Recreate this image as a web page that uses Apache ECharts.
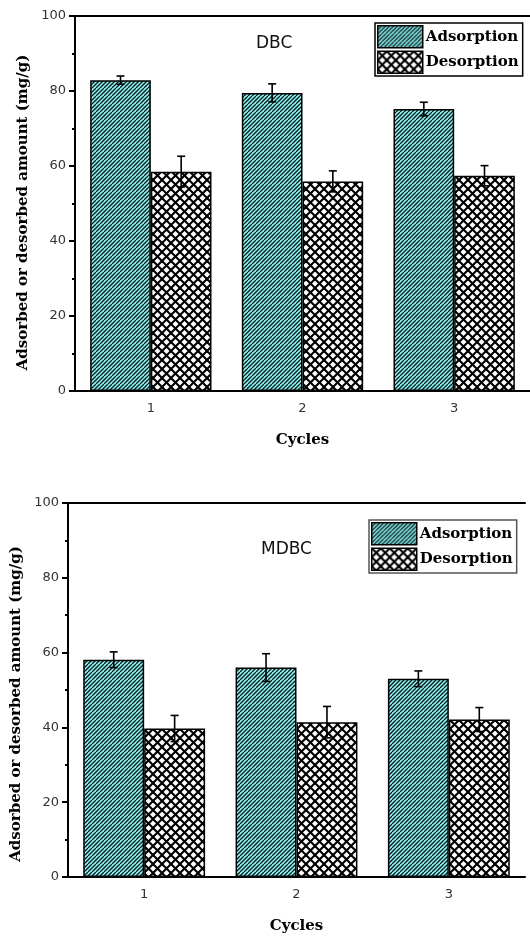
<!DOCTYPE html>
<html>
<head>
<meta charset="utf-8">
<script src="https://cdn.jsdelivr.net/npm/echarts@6/dist/echarts.min.js"></script>
<style>
  html, body { margin: 0; padding: 0; background: #fff; }
  #chart { width: 530px; height: 939px; }
</style>
</head>
<body>
<div id="chart"></div>
<script>
// Cycle categories and y-axis ticks
const cycles = ['1', '2', '3'];
const yTicks = [0, 20, 40, 60, 80, 100];

// DBC: adsorbed / desorbed amount (mg/g) with error margins
const dbcAds = [82.9, 79.5, 75.2];
const dbcAdsErr = [1.1, 2.4, 1.8];
const dbcDes = [58.5, 55.9, 57.4];
const dbcDesErr = [4.1, 2.8, 2.7];

// MDBC: adsorbed / desorbed amount (mg/g) with error margins
const mdbcAds = [58.1, 56.0, 53.0];
const mdbcAdsErr = [2.1, 3.7, 2.1];
const mdbcDes = [39.7, 41.4, 42.1];
const mdbcDesErr = [3.5, 4.2, 3.2];

// Fill patterns: cyan with dense "/" hatching, white with cross hatching
function hatchTile() {
  const c = document.createElement('canvas');
  c.width = 8; c.height = 8;
  const g = c.getContext('2d');
  g.fillStyle = '#8ef6f6';
  g.fillRect(0, 0, 8, 8);
  g.strokeStyle = '#0d1a1a';
  g.lineWidth = 1.25;
  for (let k = -8; k <= 24; k += 4) {
    g.beginPath(); g.moveTo(k, 0); g.lineTo(k - 8, 8); g.stroke();
  }
  return c;
}
function crossTile() {
  const s = 9;
  const c = document.createElement('canvas');
  c.width = s; c.height = s;
  const g = c.getContext('2d');
  g.fillStyle = '#fff';
  g.fillRect(0, 0, s, s);
  g.strokeStyle = '#000';
  g.lineWidth = 2.1;
  for (let k = -s; k <= 2 * s; k += s) {
    g.beginPath(); g.moveTo(k, 0); g.lineTo(k - s, s); g.stroke();
    g.beginPath(); g.moveTo(k, 0); g.lineTo(k + s, s); g.stroke();
  }
  return c;
}
const adsFill = { image: hatchTile(), repeat: 'repeat' };
const desFill = { image: crossTile(), repeat: 'repeat' };

const grids = [
  { left: 75, top: 16, width: 456, height: 375 },
  { left: 68, top: 503, width: 457, height: 374 }
];

const tickFont = { fontFamily: 'DejaVu Sans', fontSize: 13, color: '#333' };
const nameFont = { fontFamily: 'DejaVu Serif', fontSize: 15, fontWeight: 'bold', color: '#000' };
const titleFont = { fontFamily: 'DejaVu Sans', fontSize: 17, fontWeight: 'normal', color: '#111' };

function xAxesFor(gi) {
  return [
    { // main axis: labels and ticks at category centres
      type: 'category', gridIndex: gi, data: cycles, position: 'bottom',
      name: 'Cycles', nameLocation: 'middle', nameGap: 42, nameTextStyle: nameFont,
      axisLine: { lineStyle: { color: '#000', width: 2 } },
      axisTick: { alignWithLabel: true, length: 6, lineStyle: { color: '#000', width: 2 } },
      axisLabel: Object.assign({ margin: 11 }, tickFont),
      splitLine: { show: false }
    },
    { // small ticks on category boundaries
      type: 'category', gridIndex: gi, data: cycles, position: 'bottom',
      axisLine: { show: false },
      axisTick: { length: 3, lineStyle: { color: '#000', width: 2 } },
      axisLabel: { show: false }, splitLine: { show: false }
    },
    { // top frame line
      type: 'category', gridIndex: gi, data: cycles, position: 'top',
      axisLine: { lineStyle: { color: '#000', width: 2 } },
      axisTick: { show: false }, axisLabel: { show: false }, splitLine: { show: false }
    }
  ];
}

function yAxisFor(gi, shift) {
  return {
    type: 'value', gridIndex: gi, min: yTicks[0], max: yTicks[yTicks.length - 1],
    interval: yTicks[1] - yTicks[0],
    name: 'Adsorbed or desorbed amount (mg/g)', nameLocation: 'middle', nameGap: 44,
    nameTextStyle: Object.assign({ padding: [0, shift, 0, 0] }, nameFont),
    axisLine: { show: true, lineStyle: { color: '#000', width: 2 } },
    axisTick: { show: true, length: 6, lineStyle: { color: '#000', width: 2 } },
    minorTick: { show: true, splitNumber: 2, length: 3, lineStyle: { color: '#000', width: 2 } },
    axisLabel: Object.assign({ margin: 9 }, tickFont),
    splitLine: { show: false }
  };
}

function barSeries(name, data, fill, gi) {
  return {
    name: name, type: 'bar', xAxisIndex: gi * 3, yAxisIndex: gi,
    data: data, barGap: '0%', barCategoryGap: '20%',
    itemStyle: { color: fill, borderColor: '#000', borderWidth: 1.5 },
    emphasis: { disabled: true }, z: 2
  };
}

// Error bars drawn at the centre of each bar in a pair
function errSeries(vals, errs, side, gi) {
  return {
    type: 'custom', xAxisIndex: gi * 3, yAxisIndex: gi, z: 5, silent: true,
    data: vals.map((v, i) => [i, v - errs[i], v + errs[i]]),
    renderItem: function (params, api) {
      const band = api.size([1, 0])[0];
      const off = side * band * 0.2;
      const lo = api.coord([api.value(0), api.value(1)]);
      const hi = api.coord([api.value(0), api.value(2)]);
      const x = lo[0] + off;
      const cap = 4;
      const st = { stroke: '#000', lineWidth: 1.6 };
      return {
        type: 'group', children: [
          { type: 'line', shape: { x1: x, y1: lo[1], x2: x, y2: hi[1] }, style: st },
          { type: 'line', shape: { x1: x - cap, y1: hi[1], x2: x + cap, y2: hi[1] }, style: st },
          { type: 'line', shape: { x1: x - cap, y1: lo[1], x2: x + cap, y2: lo[1] }, style: st }
        ]
      };
    }
  };
}

function legendFor(left, top, borderColor) {
  return {
    data: ['Adsorption', 'Desorption'], orient: 'vertical', left: left, top: top,
    itemWidth: 45, itemHeight: 22, itemGap: 2, padding: [2, 4, 2, 2],
    borderColor: borderColor, borderWidth: 1.5, backgroundColor: '#fff',
    icon: 'rect', selectedMode: false,
    textStyle: { fontFamily: 'DejaVu Serif', fontSize: 15, fontWeight: 'bold', color: '#000', padding: [0, 0, 0, -2] },
    itemStyle: { borderColor: '#000', borderWidth: 1.5 }
  };
}

const chart = echarts.init(document.getElementById('chart'), null, { renderer: 'canvas' });
chart.setOption({
  animation: false,
  backgroundColor: '#fff',
  title: [
    { text: 'DBC', left: 256, top: 35, padding: 0, textStyle: titleFont },
    { text: 'MDBC', left: 261, top: 541, padding: 0, textStyle: titleFont }
  ],
  legend: [legendFor(375, 23, '#000'), legendFor(369, 520, '#555')],
  grid: grids,
  xAxis: xAxesFor(0).concat(xAxesFor(1)),
  yAxis: [yAxisFor(0, 18), yAxisFor(1, 28)],
  series: [
    barSeries('Adsorption', dbcAds, adsFill, 0),
    barSeries('Desorption', dbcDes, desFill, 0),
    errSeries(dbcAds, dbcAdsErr, -1, 0),
    errSeries(dbcDes, dbcDesErr, 1, 0),
    barSeries('Adsorption', mdbcAds, adsFill, 1),
    barSeries('Desorption', mdbcDes, desFill, 1),
    errSeries(mdbcAds, mdbcAdsErr, -1, 1),
    errSeries(mdbcDes, mdbcDesErr, 1, 1)
  ]
});
</script>
</body>
</html>
